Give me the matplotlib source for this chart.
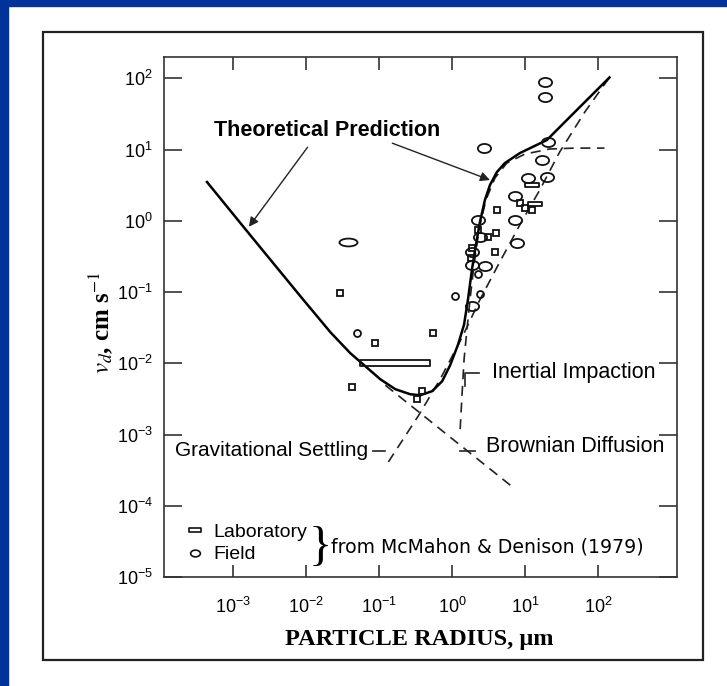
import numpy as np
import matplotlib.pyplot as plt
from matplotlib.path import Path
from matplotlib.patches import Rectangle
from matplotlib.transforms import Affine2D
from matplotlib.lines import Line2D

plt.rcParams['font.family'] = ['Liberation Sans', 'DejaVu Sans']
plt.rcParams['mathtext.fontset'] = 'custom'
plt.rcParams['mathtext.rm'] = 'Liberation Sans'
plt.rcParams['mathtext.it'] = 'Liberation Sans:italic'
plt.rcParams['mathtext.bf'] = 'Liberation Sans:bold'

# theoretical prediction (solid curve)
theory_r = [4.4e-4, 1.75e-3, 8.44e-3, 0.0217, 0.0406, 0.065, 0.104, 0.167, 0.267, 0.366,
            0.533, 0.731, 0.94, 1.21, 1.46, 1.65, 1.87, 2.12, 2.41, 2.82,
            3.30, 4.11, 5.28, 8.47, 19.8, 55.7, 143]
theory_v = [3.51, 0.617, 0.0865, 0.0271, 0.0138, 0.00908, 0.00597, 0.00433, 0.00368, 0.00356,
            0.00406, 0.0056, 0.00938, 0.01845, 0.0351, 0.0785, 0.2065, 0.461, 0.968, 1.97,
            3.18, 4.84, 6.47, 8.93, 13.6, 39.3, 103]

# component curves (dashed)
grav_r = [0.134, 0.344, 0.686, 1.37, 2.41, 4.52, 8.47, 15.9, 29.7, 65.3, 143]
grav_v = [4.12e-4, 1.82e-3, 5.97e-3, 0.0231, 0.0785, 0.267, 0.879, 2.72, 9.23, 33.4, 103]
brown_r = [0.122, 0.366, 0.94, 2.41, 7.23]
brown_v = [4.92e-3, 2.0e-3, 9.2e-4, 4.26e-4, 1.73e-4]
inert_r = [1.29, 1.37, 1.46, 1.60, 1.76, 2.0, 2.33, 2.91, 3.86, 5.62, 9.9, 21.7, 47.6, 122]
inert_v = [1.19e-3, 3.68e-3, 0.0114, 0.0299, 0.0785, 0.243, 0.748, 1.97, 3.99, 6.47, 8.65, 10.2, 10.5, 10.5]

# field measurements (ellipses)
field_r = [18.6, 18.6, 2.7, 20.4, 17, 10.9, 19.8, 7.2, 7.2, 2.3, 2.4, 7.7, 1.9, 1.9, 2.8, 1.9]
field_v = [88, 54, 10.5, 12.7, 7.1, 4.0, 4.1, 2.2, 1.03, 1.03, 0.6, 0.49, 0.36, 0.24, 0.23, 0.063]
field_small_r = [2.3, 1.1, 2.4, 0.05]
field_small_v = [0.18, 0.087, 0.093, 0.027]
field_wide_r = [0.037]
field_wide_v = [0.51]

# laboratory measurements (rectangles)
lab_r = [12.3, 13.5]
lab_v = [3.2, 1.7]
lab_sq_r = [8.5, 10, 12.3, 4.1, 2.3, 4.0, 3.1, 3.9, 1.9, 1.8, 0.029, 0.089, 0.55, 0.33, 0.39, 0.042]
lab_sq_v = [1.8, 1.5, 1.4, 1.4, 0.75, 0.68, 0.6, 0.37, 0.42, 0.3, 0.098, 0.019, 0.027, 0.0032, 0.0041, 0.0046]
lab_bar_r = [0.055, 0.5]
lab_bar_lo = [0.00908, 0.00908]
lab_bar_hi = [0.0110, 0.0110]

xticks = [1e-3, 1e-2, 1e-1, 1e0, 1e1, 1e2]
yticks = [1e-5, 1e-4, 1e-3, 1e-2, 1e-1, 1e0, 1e1, 1e2]

ellipse = Path.unit_circle().transformed(Affine2D().scale(1.45, 1.0))
wide = Path.unit_circle().transformed(Affine2D().scale(2.3, 1.0))
flat = Path([(-1.3, -0.45), (1.3, -0.45), (1.3, 0.45), (-1.3, 0.45), (-1.3, -0.45)],
            [Path.MOVETO, Path.LINETO, Path.LINETO, Path.LINETO, Path.CLOSEPOLY])

W, H = 727, 686
fig = plt.figure(figsize=(W / 100, H / 100), dpi=100)
fig.patches.append(Rectangle((0, 1 - 6 / H), 1, 6 / H, transform=fig.transFigure, color='#003399'))
fig.patches.append(Rectangle((0, 0), 8 / W, 1, transform=fig.transFigure, color='#003399'))
fig.patches.append(Rectangle((43 / W, 1 - 660 / H), 660 / W, 628 / H, transform=fig.transFigure,
                             fill=False, lw=1.6, edgecolor='#222222'))

ax = fig.add_axes([164 / W, 1 - 577 / H, 513 / W, 520 / H])
ax.set_xscale('log')
ax.set_yscale('log')
ax.set_xlim(10 ** -3.945, 10 ** 3.08)
ax.set_ylim(1e-5, 10 ** 2.3)

ax.plot(theory_r, theory_v, color='k', lw=1.8, zorder=3)
dash = dict(color='#222222', lw=1.2, ls=(0, (6, 4)), zorder=2)
ax.plot(grav_r, grav_v, **dash)
ax.plot(brown_r, brown_v, **dash)
ax.plot(inert_r, inert_v, **dash)

mk = dict(ls='none', mfc='none', mec='#111111', mew=1.3, zorder=4)
ax.plot(field_r, field_v, marker=ellipse, ms=9.5, **mk)
ax.plot(field_small_r, field_small_v, marker='o', ms=5, **mk)
ax.plot(field_wide_r, field_wide_v, marker=wide, ms=13, **mk)
ax.plot(lab_r, lab_v, marker=flat, ms=9.4, **mk)
ax.plot(lab_sq_r, lab_sq_v, marker='s', ms=4.8, **mk)
ax.fill_between(lab_bar_r, lab_bar_lo, lab_bar_hi, facecolor='none', edgecolor='#111111', lw=1.3, zorder=4)

ax.set_xticks(xticks)
ax.set_yticks(yticks)
ax.minorticks_off()
for s in ax.spines.values():
    s.set_color('#333333')
    s.set_linewidth(1.2)
ax.tick_params(axis='y', which='major', direction='in', length=13, width=1.2, pad=8,
               left=True, right=True, labelsize=13, color='#333333')
ax.tick_params(axis='x', which='major', direction='in', length=9, width=1.2, pad=14,
               top=True, bottom=True, labelsize=13, color='#333333')

ax.set_xlabel('PARTICLE RADIUS, \u03bcm', fontfamily='Liberation Serif', fontweight='bold', fontsize=17.5)
ax.xaxis.set_label_coords(0.497, -0.1)
ax.set_ylabel(r'$v_d$, cm s$^{-1}$', fontfamily='Liberation Serif', fontweight='bold', fontsize=18,
              math_fontfamily='stix')
ax.yaxis.set_label_coords(-0.096, 0.49)

# labels and leader lines
ax.text(0.0197, 18.7, 'Theoretical Prediction', fontsize=15.5, fontweight='bold', ha='center', va='center')
arrow = dict(arrowstyle='-|>', color='#222222', lw=1.0, mutation_scale=14, shrinkA=0, shrinkB=0)
ax.annotate('', xy=(1.65e-3, 0.824), xytext=(0.0105, 10.8), arrowprops=arrow)
ax.annotate('', xy=(3.30, 3.74), xytext=(0.152, 12.3), arrowprops=arrow)

ax.text(3.51, 7.48e-3, 'Inertial Impaction', fontsize=15.5, ha='left', va='center')
ax.plot([2.33, 1.50, 1.50], [7.2e-3, 7.2e-3, 4.8e-3], color='#222222', lw=1.2)
ax.text(2.91, 6.9e-4, 'Brownian Diffusion', fontsize=15.5, ha='left', va='center')
ax.plot([1.29, 2.06], [5.9e-4, 5.9e-4], color='#222222', lw=1.2)
ax.text(0.0714, 5.88e-4, 'Gravitational Settling', fontsize=15, ha='right', va='center')
ax.plot([0.0836, 0.122], [5.9e-4, 5.9e-4], color='#222222', lw=1.2)

handles = [Line2D([], [], ls='none', marker=flat, ms=8, mfc='none', mec='#111111', mew=1.2),
           Line2D([], [], ls='none', marker=ellipse, ms=7, mfc='none', mec='#111111', mew=1.2)]
ax.legend(handles, ['Laboratory', 'Field'], loc='lower left', bbox_to_anchor=(0.043, 0.026),
          frameon=False, fontsize=14, handlelength=0.9, handletextpad=0.5, labelspacing=0.25,
          borderpad=0, borderaxespad=0)
ax.text(0.0158, 2.55e-5, '}', fontsize=35, fontfamily='Liberation Serif', ha='center', va='center')
ax.text(0.0217, 2.6e-5, 'from McMahon & Denison (1979)', fontsize=13.6, fontfamily='DejaVu Sans',
        ha='left', va='center')

fig.savefig('out.png', dpi=100)
